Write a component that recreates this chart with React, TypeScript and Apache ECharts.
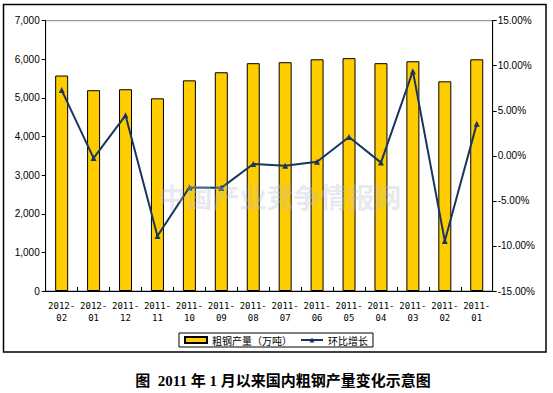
import React, { useEffect, useRef } from "react";
import * as echarts from "echarts";

const categories = [
  "2012-\n02", "2012-\n01", "2011-\n12", "2011-\n11", "2011-\n10", "2011-\n09", "2011-\n08",
  "2011-\n07", "2011-\n06", "2011-\n05", "2011-\n04", "2011-\n03", "2011-\n02", "2011-\n01",
];
const output = [5580, 5200, 5225, 4990, 5455, 5665, 5900, 5925, 6000, 6030, 5900, 5950, 5430, 6000];
const growth = [7.3, -0.25, 4.5, -8.9, -3.5, -3.55, -0.9, -1.1, -0.65, 2.1, -0.75, 9.4, -9.45, 3.55];
const barName = "粗钢产量（万吨）";
const lineName = "环比增长";
const titleText = "图  2011 年 1 月以来国内粗钢产量变化示意图";
const watermark = "中国产业竞争情报网";

export default function App() {
  const ref = useRef<HTMLDivElement>(null);
  useEffect(() => {
    if (!ref.current) return;
    const chart = echarts.init(ref.current, null, { renderer: "svg" });
    const axisFont = { fontFamily: "Liberation Sans, Arial, sans-serif", fontSize: 10, color: "#000" };
    chart.setOption({
      animation: false,
      backgroundColor: "#fff",
      grid: {
        left: 45.7,
        top: 20.7,
        right: 60.3,
        bottom: 102,
        show: true,
        borderColor: "#808080",
        borderWidth: 1,
      },
      legend: {
        left: 179,
        top: 333,
        padding: [2, 5, 2, 5],
        borderColor: "#000",
        borderWidth: 1,
        itemGap: 8,
        itemWidth: 22,
        itemHeight: 6,
        textStyle: { fontFamily: "Noto Sans CJK SC, sans-serif", fontSize: 10, color: "#000" },
        data: [
          { name: barName, icon: "rect" },
          { name: lineName },
        ],
      },
      xAxis: {
        type: "category",
        data: categories,
        axisLine: { lineStyle: { color: "#000", width: 1 } },
        axisTick: { show: true, inside: true, length: 4, lineStyle: { color: "#000" } },
        axisLabel: {
          interval: 0,
          margin: 9,
          lineHeight: 12,
          fontFamily: "DejaVu Sans Mono, monospace",
          fontSize: 9,
          color: "#000",
        },
      },
      yAxis: [
        {
          type: "value",
          min: 0,
          max: 7000,
          interval: 1000,
          axisLine: { show: true, lineStyle: { color: "#000" } },
          axisTick: { show: true, length: 4, lineStyle: { color: "#000" } },
          splitLine: { show: false },
          axisLabel: {
            ...axisFont,
            margin: 6,
            formatter: (v: number) => v.toLocaleString("en-US"),
          },
        },
        {
          type: "value",
          min: -15,
          max: 15,
          interval: 5,
          position: "right",
          axisLine: { show: true, lineStyle: { color: "#000" } },
          axisTick: { show: true, length: 4, lineStyle: { color: "#000" } },
          splitLine: { show: false },
          axisLabel: {
            ...axisFont,
            margin: 5,
            formatter: (v: number) => v.toFixed(2) + "%",
          },
        },
      ],
      series: [
        {
          name: barName,
          type: "bar",
          data: output,
          barWidth: 13,
          yAxisIndex: 0,
          itemStyle: { color: "#FFCC00", borderColor: "#000", borderWidth: 1 },
        },
        {
          name: lineName,
          type: "line",
          data: growth,
          yAxisIndex: 1,
          symbol: "triangle",
          symbolSize: 6,
          lineStyle: { color: "#17375E", width: 2 },
          itemStyle: { color: "#17375E" },
          z: 3,
        },
      ],
      graphic: [
        {
          type: "rect",
          shape: { x: 3.5, y: 4.5, width: 542.5, height: 347.5 },
          style: { fill: "none", stroke: "#000", lineWidth: 1.5 },
          silent: true,
        },
        {
          type: "text",
          x: 280,
          y: 196,
          z: 10,
          silent: true,
          style: {
            text: watermark,
            align: "center",
            verticalAlign: "middle",
            fontSize: 27,
            fontWeight: "bold",
            fontFamily: "Noto Sans CJK SC, sans-serif",
            fill: "rgba(185,195,205,0.35)",
          },
        },
        {
          type: "text",
          x: 283,
          y: 381,
          silent: true,
          style: {
            text: titleText,
            align: "center",
            verticalAlign: "middle",
            fontSize: 15,
            fontWeight: "bold",
            fontFamily: "Liberation Serif, Noto Sans CJK SC, serif",
            fill: "#000",
          },
        },
      ],
    });
    return () => chart.dispose();
  }, []);
  return (
    <div
      ref={ref}
      style={{ position: "absolute", left: 0, top: 0, width: 553, height: 393 }}
    />
  );
}
